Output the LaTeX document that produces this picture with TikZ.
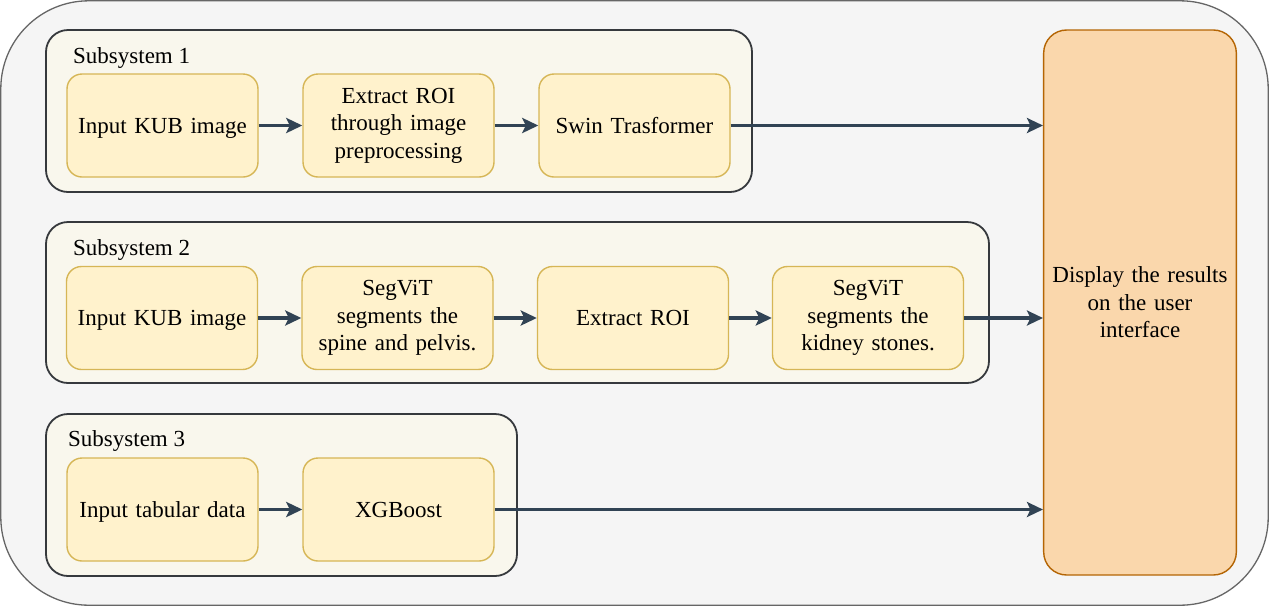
\documentclass[tikz,border=0pt]{standalone}
\usepackage{fontspec}
\setmainfont{Liberation Serif}
\newfontfamily\tnrfont{Liberation Serif}
\usetikzlibrary{arrows.meta}
\definecolor{outerfill}{HTML}{F5F5F5}
\definecolor{outerline}{HTML}{666666}
\definecolor{subfill}{HTML}{F9F7ED}
\definecolor{subline}{HTML}{36393D}
\definecolor{boxfill}{HTML}{FFF2CC}
\definecolor{boxline}{HTML}{D6B656}
\definecolor{dispfill}{HTML}{FAD7AC}
\definecolor{displine}{HTML}{B46504}
\definecolor{arrowcol}{HTML}{314354}
\tikzset{
  every node/.style={font=\tnrfont\fontsize{23}{27.5}\selectfont},
  procbox/.style={draw=boxline, fill=boxfill, line width=1.4pt, rounded corners=15pt,
    minimum width=191pt, minimum height=103pt, align=center, inner sep=2pt, text width=185pt},
  oneline/.style={text height=15.5pt, text depth=0pt},
  subbox/.style={draw=subline, fill=subfill, line width=1.8pt, rounded corners=22pt},
  sublabel/.style={anchor=base west, inner sep=0pt},
  flow/.style={draw=arrowcol, line width=3.2pt, -{Stealth[length=16pt, width=15pt, inset=3.5pt]}},
}
\begin{document}
\begin{tikzpicture}[x=1pt, y=-1pt]
\useasboundingbox (0,0) rectangle (1269,606);
% outer container
\draw[draw=outerline, fill=outerfill, line width=1.3pt, rounded corners=88pt] (0.8,0.8) rectangle (1268.2,605.2);
% subsystem containers
\draw[subbox] (46,30) rectangle (752,192);
\draw[subbox] (46,222) rectangle (989,383);
\draw[subbox] (46,414) rectangle (517,576);
\node[sublabel] (l1) at (73,63.5) {Subsystem 1};
\node[sublabel] (l2) at (73,255) {Subsystem 2};
\node[sublabel] (l3) at (68,446.5) {Subsystem 3};
% display
\node[draw=displine, fill=dispfill, line width=1.4pt, rounded corners=23pt,
  minimum width=192pt, minimum height=545pt, align=center, text width=186pt] (disp) at (1140,302.5)
  {Display the results\\on the user\\interface};
% subsystem 1
\node[procbox, oneline] (a1) at (162.5,125.5) {Input KUB image};
\node[procbox] (a2) at (398.5,125.5) {Extract ROI\\through image\\preprocessing};
\node[procbox, oneline] (a3) at (634.5,125.5) {Swin Trasformer};
% subsystem 2
\node[procbox, oneline] (b1) at (162,318) {Input KUB image};
\node[procbox] (b2) at (397.5,318) {SegViT\\segments the\\spine and pelvis.};
\node[procbox, oneline] (b3) at (633,318) {Extract ROI};
\node[procbox] (b4) at (868,318) {SegViT\\segments the\\kidney stones.};
% subsystem 3
\node[procbox, oneline] (c1) at (162.5,509.5) {Input tabular data};
\node[procbox, oneline] (c2) at (398.5,509.5) {XGBoost};
% arrows
\draw[flow] (a1) -- (a2);
\draw[flow] (a2) -- (a3);
\draw[flow] (a3.east) -- (a3.east -| disp.west);
\draw[flow] (b1) -- (b2);
\draw[flow] (b2) -- (b3);
\draw[flow] (b3) -- (b4);
\draw[flow] (b4.east) -- (b4.east -| disp.west);
\draw[flow] (c1) -- (c2);
\draw[flow] (c2.east) -- (c2.east -| disp.west);
\end{tikzpicture}
\end{document}
